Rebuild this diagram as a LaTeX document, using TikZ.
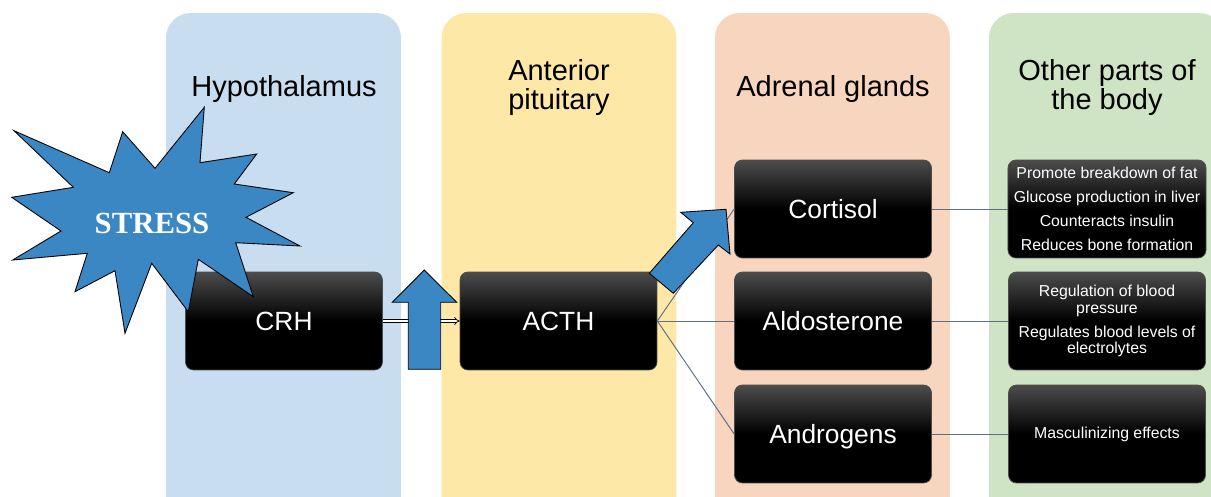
\documentclass[tikz,border=0pt]{standalone}
\usepackage{fontspec}
\setmainfont{Liberation Sans}
\newfontfamily\stressfont{Liberation Serif}
\usetikzlibrary{arrows.meta,positioning}
\definecolor{hypoblue}{RGB}{200,222,240}
\definecolor{pituyellow}{RGB}{254,232,168}
\definecolor{adrenpeach}{RGB}{248,213,190}
\definecolor{bodygreen}{RGB}{206,228,196}
\definecolor{arrowblue}{RGB}{58,135,196}
\definecolor{linkgray}{RGB}{95,112,134}

\begin{document}
\begin{tikzpicture}
  [x=0.02cm,y=-0.02cm,
   column/.style={rectangle,rounded corners=14pt,minimum width=4.7cm,minimum height=10.4cm,inner sep=0pt},
   heading/.style={font=\fontsize{16.5}{17}\selectfont,align=center},
   blackbox/.style={rectangle,rounded corners=4.5pt,draw=black!70,thin,top color=black!70,bottom color=black,middle color=black,text=white,minimum width=3.94cm,minimum height=1.96cm},
   gland/.style={blackbox,font=\fontsize{15}{17}\selectfont,text height=10.8pt,text depth=0pt},
   effect/.style={blackbox,font=\fontsize{9}{9.5}\selectfont,align=center},
   link/.style={draw=linkgray,line width=0.55pt},
   blockarrow/.style={fill=arrowblue,draw=black,line width=0.5pt}]
  \useasboundingbox (0,0) rectangle (1211,497);
  \clip (0,0) rectangle (1211,497);

  % columns
  \node (hypocol) [column,fill=hypoblue] at (283.5,273) {};
  \node (pitucol) [column,fill=pituyellow] at (559,273) {};
  \node (adrencol) [column,fill=adrenpeach] at (832.5,273) {};
  \node (bodycol) [column,fill=bodygreen] at (1106.5,273) {};

  \node (hypolabel) [heading] at (284,89) {Hypothalamus};
  \node (pitulabel) [heading] at (559,87.5) {Anterior\\pituitary};
  \node (adrenlabel) [heading] at (833,89) {Adrenal glands};
  \node (bodylabel) [heading] at (1107,87.5) {Other parts of\\the body};

  % hormones
  \node (crh) [gland] at (284,321) {CRH};
  \node (acth) [gland] at (558.5,321) {ACTH};
  \node (cortisol) [gland] at (833,209) {Cortisol};
  \node (aldo) [gland] at (833,321) {Aldosterone};
  \node (andro) [gland] at (833,434) {Androgens};

  % effects
  \node (cortfx) [effect] at (1107,209) {Promote breakdown of fat\\[4.2pt]Glucose production in liver\\[4.2pt]Counteracts insulin\\[4.2pt]Reduces bone formation};
  \node (aldofx) [effect] at (1107,321) {Regulation of blood\\pressure\\[4.2pt]Regulates blood levels of\\electrolytes};
  \node (androfx) [effect] at (1107,434) {Masculinizing effects};

  \path[link]
  (acth.east) edge (cortisol.west)
  (acth.east) edge (aldo.west)
  (acth.east) edge (andro.west)
  (cortisol.east) edge (cortfx.west)
  (aldo.east) edge (aldofx.west)
  (andro.east) edge (androfx.west);

  \draw[double,double distance=1.2pt,line width=0.4pt,-{Implies}] (crh.east) -- (acth.west);

  % block arrows
  \draw[blockarrow] (408.3,369.3) -- (408.3,302.3) -- (392.3,302.3) -- (424.3,270) -- (456.7,302.3) -- (440.7,302.3) -- (440.7,369.3) -- cycle;
  \draw[blockarrow] (649.3,273.3) -- (693.3,222.7) -- (680.7,212.3) -- (726,209.3) -- (730,254) -- (718.3,245) -- (673.3,293.3) -- cycle;

  % stress burst
  \draw[blockarrow] (14,130.7) -- (109.3,172.7) -- (122.7,131.7) -- (155,168.3) -- (204.3,107.3) -- (200,162.7)
    -- (256.7,154) -- (234.3,184) -- (293.3,192.7) -- (246,217.3) -- (300,246) -- (235.7,242.7)
    -- (253.3,296.7) -- (198.3,259.3) -- (188.3,311.7) -- (151.7,263.3) -- (125,333.3) -- (115,270.7)
    -- (75,291.7) -- (87.3,253.3) -- (12.7,260) -- (61,231) -- (11.7,197.3) -- (73.3,187.3) -- cycle;
  \node (stress) [text=white,font=\stressfont\bfseries\fontsize{17.5}{20}\selectfont] at (152,223) {STRESS};
\end{tikzpicture}
\end{document}
